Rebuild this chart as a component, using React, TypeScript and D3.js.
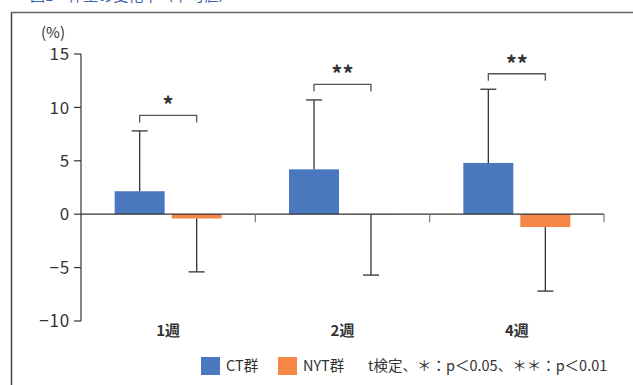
import React from "react";
import * as d3 from "d3";

const categories = ["1週", "2週", "4週"];
const series = ["CT群", "NYT群"];
const ctMeans = [2.15, 4.2, 4.8];
const ctErrTop = [7.8, 10.7, 11.7];
const nytMeans = [-0.4, -0.05, -1.2];
const nytErrBottom = [-5.4, -5.7, -7.2];
const sigLabels = ["*", "**", "**"];
const yTicks = [15, 10, 5, 0, -5, -10];
const colors = ["#4a78be", "#f58646"];

const W = 633;
const H = 385;
const FONT = "'Noto Sans CJK JP', 'Noto Sans', sans-serif";

export default function App() {
  const y = d3.scaleLinear().domain([-10, 15]).range([321, 54]);
  const x = d3.scaleBand<string>().domain(categories).range([81, 604]).padding(0);
  const p = 7 / 57;
  const bar = (c: string) =>
    d3
      .scaleBand<string>()
      .domain(series)
      .range([x(c)! + x.bandwidth() / 2 - 53.5, x(c)! + x.bandwidth() / 2 + 53.5])
      .paddingInner(p)
      .paddingOuter(0);
  const tickFmt = (v: number) => (v < 0 ? "\u2212" + Math.abs(v) : String(v));
  const ink = "#333";

  return (
    <svg width={W} height={H} style={{ position: "absolute", left: 0, top: 0 }}>
      <rect x={0} y={0} width={W} height={H} fill="#fff" />
      <text x={30} y={1} fontFamily={FONT} fontSize={15} fill="#3a5fb0">
        図1　体重の変化率（平均値）
      </text>
      {/* frame */}
      <line x1={11.5} y1={12} x2={11.5} y2={H} stroke="#444" strokeWidth={1.5} />
      <line x1={11} y1={12.5} x2={W} y2={12.5} stroke="#666" strokeWidth={1.5} />
      {/* axis unit */}
      <text x={41} y={38} fontFamily={FONT} fontSize={15} fill={ink}>
        (%)
      </text>
      {/* y axis */}
      <line x1={81} y1={y(15)} x2={81} y2={y(-10)} stroke={ink} strokeWidth={1.2} />
      {yTicks.map((t) => (
        <g key={t}>
          <line x1={74} x2={81} y1={y(t)} y2={y(t)} stroke={ink} strokeWidth={1.2} />
          <text
            x={70}
            y={y(t)}
            dy="0.36em"
            textAnchor="end"
            fontFamily={FONT}
            fontSize={17}
            letterSpacing={0.8}
            fill={ink}
          >
            {tickFmt(t)}
          </text>
        </g>
      ))}
      {/* bars */}
      {categories.map((c, i) => {
        const b = bar(c);
        const ctX = b("CT群")!;
        const nyX = b("NYT群")!;
        const bw = b.bandwidth();
        return (
          <g key={c}>
            <rect x={ctX} y={y(ctMeans[i])} width={bw} height={y(0) - y(ctMeans[i])} fill={colors[0]} />
            <rect x={nyX} y={y(0)} width={bw} height={y(nytMeans[i]) - y(0)} fill={colors[1]} />
          </g>
        );
      })}
      {/* zero line */}
      <line x1={81} x2={604} y1={y(0)} y2={y(0)} stroke={ink} strokeWidth={1.2} />
      {categories.map((c) => (
        <line
          key={c}
          x1={x(c)! + x.bandwidth()}
          x2={x(c)! + x.bandwidth()}
          y1={y(0)}
          y2={y(0) + 8}
          stroke="#777"
          strokeWidth={1.2}
        />
      ))}
      {/* error bars and brackets */}
      {categories.map((c, i) => {
        const b = bar(c);
        const bw = b.bandwidth();
        const cx1 = b("CT群")! + bw / 2;
        const cx2 = b("NYT群")! + bw / 2;
        const brY = y(ctErrTop[i]) - 15.5;
        return (
          <g key={c} stroke={ink} strokeWidth={1.3} fill="none">
            <line x1={cx1} x2={cx1} y1={y(ctMeans[i])} y2={y(ctErrTop[i])} />
            <line x1={cx1 - 8} x2={cx1 + 8} y1={y(ctErrTop[i])} y2={y(ctErrTop[i])} />
            <line x1={cx2} x2={cx2} y1={y(nytMeans[i])} y2={y(nytErrBottom[i])} />
            <line x1={cx2 - 8} x2={cx2 + 8} y1={y(nytErrBottom[i])} y2={y(nytErrBottom[i])} />
            <path d={`M${cx1},${brY + 7}V${brY}H${cx2}V${brY + 7}`} stroke="#555" />
            <text
              x={(cx1 + cx2) / 2}
              y={brY - 2}
              textAnchor="middle"
              fontFamily={FONT}
              fontSize={22}
              fontWeight="bold"
              fill={ink}
              stroke="none"
            >
              {sigLabels[i]}
            </text>
          </g>
        );
      })}
      {/* category labels */}
      {categories.map((c) => (
        <text
          key={c}
          x={x(c)! + x.bandwidth() / 2}
          y={331}
          dy="0.36em"
          textAnchor="middle"
          fontFamily={FONT}
          fontSize={15}
          fontWeight="bold"
          fill={ink}
        >
          {c}
        </text>
      ))}
      {/* legend */}
      <rect x={201} y={357} width={19} height={18} fill={colors[0]} />
      <text x={226} y={366} dy="0.36em" fontFamily={FONT} fontSize={14.5} fill={ink}>
        CT群
      </text>
      <rect x={278} y={357} width={19} height={18} fill={colors[1]} />
      <text x={303} y={366} dy="0.36em" fontFamily={FONT} fontSize={14.5} fill={ink}>
        NYT群
      </text>
      <text x={368} y={366} dy="0.36em" fontFamily={FONT} fontSize={14.5} fill={ink}>
        t検定、＊：p＜0.05、＊＊：p＜0.01
      </text>
    </svg>
  );
}
